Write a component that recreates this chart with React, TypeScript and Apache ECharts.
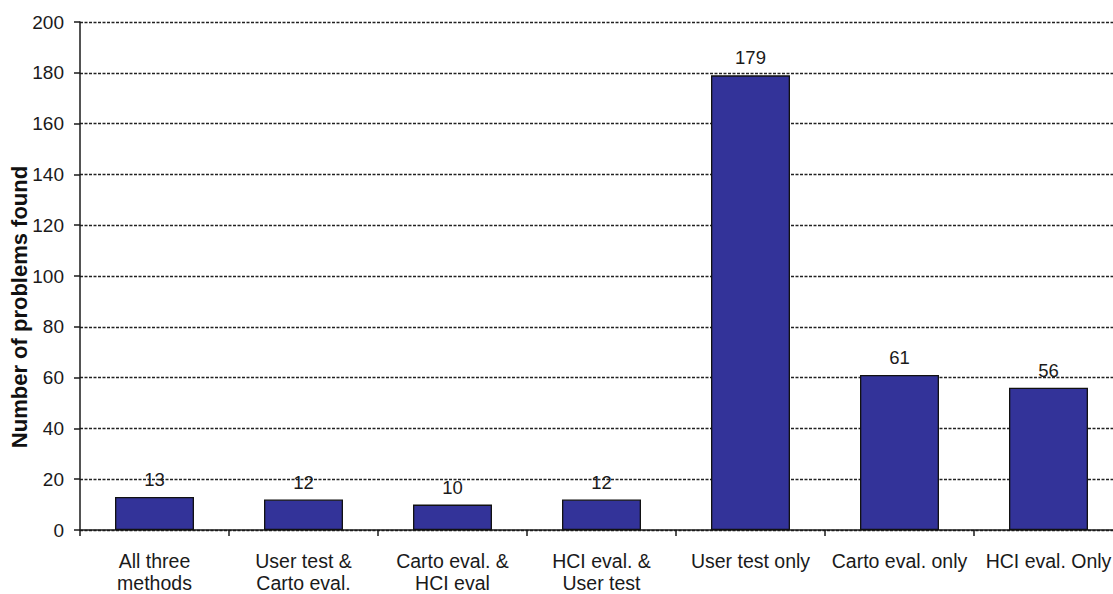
import React, { useEffect, useRef } from "react";
import * as echarts from "echarts";

// Problems found by each evaluation method (and their overlaps)
const categories: string[] = [
  "All three\nmethods",
  "User test &\nCarto eval.",
  "Carto eval. &\nHCI eval",
  "HCI eval. &\nUser test",
  "User test only",
  "Carto eval. only",
  "HCI eval. Only",
];
const problemCounts: number[] = [13, 12, 10, 12, 179, 61, 56];
const yTicks = { min: 0, max: 200, interval: 20 };
const yTitle = "Number of problems found";

const FONT = "Liberation Sans, Arial, sans-serif";

export default function App() {
  const ref = useRef<HTMLDivElement>(null);

  useEffect(() => {
    if (!ref.current) return;
    const chart = echarts.init(ref.current, undefined, { renderer: "svg" });
    chart.setOption({
      animation: false,
      backgroundColor: "#ffffff",
      // plot area runs slightly past the right edge of the visible frame
      grid: { left: 80, right: 0, top: 22, bottom: 63, containLabel: false },
      xAxis: {
        type: "category",
        data: categories,
        axisLine: { lineStyle: { color: "#1a1a1a", width: 1.5 } },
        axisTick: { show: true, length: 6, inside: false, lineStyle: { color: "#1a1a1a", width: 1.5 } },
        axisLabel: {
          color: "#1a1a1a",
          fontFamily: FONT,
          fontSize: 19.5,
          lineHeight: 22,
          margin: 20,
          interval: 0,
        },
        splitLine: { show: false },
      },
      yAxis: {
        type: "value",
        min: yTicks.min,
        max: yTicks.max,
        interval: yTicks.interval,
        axisLine: { show: true, lineStyle: { color: "#1a1a1a", width: 1.5 } },
        axisTick: { show: true, length: 6, lineStyle: { color: "#1a1a1a", width: 1.5 } },
        axisLabel: { color: "#1a1a1a", fontFamily: FONT, fontSize: 19, margin: 16 },
        splitLine: {
          show: true,
          lineStyle: { color: "#222", type: [3, 1.5], width: 1.3 },
        },
      },
      graphic: [
        {
          type: "text",
          x: 19,
          y: 307,
          rotation: Math.PI / 2,
          style: {
            text: yTitle,
            fontFamily: FONT,
            fontWeight: "bold",
            fontSize: 22,
            fill: "#111",
            align: "center",
            verticalAlign: "middle",
          },
        },
      ],
      series: [
        {
          type: "bar",
          data: problemCounts,
          barWidth: "53%",
          itemStyle: { color: "#333399", borderColor: "#111", borderWidth: 1.3 },
          label: {
            show: true,
            position: "top",
            distance: 8,
            color: "#1a1a1a",
            fontFamily: FONT,
            fontSize: 18.5,
          },
        },
      ],
    });
    return () => chart.dispose();
  }, []);

  return (
    <div
      style={{
        position: "fixed",
        left: 0,
        top: 0,
        width: 1113,
        height: 594,
        overflow: "hidden",
        background: "#fff",
      }}
    >
      <div ref={ref} style={{ width: 1123, height: 594 }} />
    </div>
  );
}
